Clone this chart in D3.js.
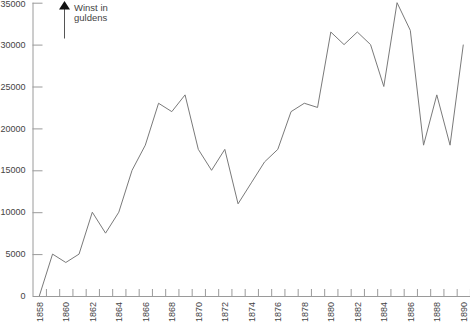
<!DOCTYPE html>
<html><head><meta charset="utf-8">
<script src="https://cdn.jsdelivr.net/npm/d3@7"></script>
<style>body{margin:0;background:#fff}svg{display:block}text{font-family:"Liberation Sans",Arial,sans-serif}</style>
</head><body>
<script>
const years = d3.range(1858, 1891);
const profit = [0,5000,4000,5000,10000,7500,10000,15000,18000,23000,22000,24000,17500,15000,17500,11000,13500,16000,17500,22000,23000,22500,31500,30000,31500,30000,25000,35000,31700,18000,24000,18000,30000];
const yTicks = [0,5000,10000,15000,20000,25000,30000,35000];
const xLabels = d3.range(1858, 1891, 2);
const unitLabel = ["Winst in","guldens"];

const W=470,H=322;
const svg=d3.select("body").append("svg").attr("width",W).attr("height",H);
const x=d3.scaleLinear().domain([1858,1890]).range([39.3,463.3]);
const y=d3.scaleLinear().domain([0,35000]).range([296,2.7]);
const axisCol="#9a9a9a", textCol="#444";

// y axis
const ya=svg.append("g").attr("transform","translate(32.5,0)")
  .call(d3.axisRight(y).tickValues(yTicks).tickSize(10).tickFormat(""));
ya.select(".domain").attr("stroke",axisCol).attr("d",`M0.5,${y(35000)}V${y(0)}`);
ya.selectAll(".tick line").attr("stroke",axisCol);
svg.append("g").selectAll("text").data(yTicks).join("text")
  .attr("x",25.5).attr("y",d=>Math.max(y(d),4.2)).attr("dy","0.35em").attr("text-anchor","end")
  .attr("font-size",9).attr("fill",textCol).text(d=>d);

// x axis
const halfTicks=d3.range(1858.5,1891,1);
const xa=svg.append("g").attr("transform","translate(0,296)")
  .call(d3.axisTop(x).tickValues(halfTicks).tickSize(7).tickFormat(""));
xa.select(".domain").attr("stroke",axisCol).attr("d","M33,0.5H470");
xa.selectAll(".tick line").attr("stroke",axisCol);
svg.append("g").selectAll("text").data(xLabels).join("text")
  .attr("transform",d=>`translate(${x(d)+3.2},302) rotate(-90)`)
  .attr("text-anchor","end").attr("font-size",9).attr("fill",textCol).text(d=>d);

// line
svg.append("path").datum(years.map((yr,i)=>[yr,profit[i]]))
  .attr("fill","none").attr("stroke","#7a7a7a").attr("stroke-width",1)
  .attr("d",d3.line().x(d=>x(d[0])).y(d=>y(d[1])));

// arrow label
svg.append("line").attr("x1",64.5).attr("x2",64.5).attr("y1",8).attr("y2",38.5).attr("stroke","#555");
svg.append("path").attr("d","M64.5,1L70,9.5H59Z").attr("fill","#111");
svg.append("g").selectAll("text").data(unitLabel).join("text")
  .attr("x",74).attr("y",(d,i)=>10.5+i*10.5).attr("font-size",9.5).attr("fill",textCol).text(d=>d);
</script>
</body></html>
